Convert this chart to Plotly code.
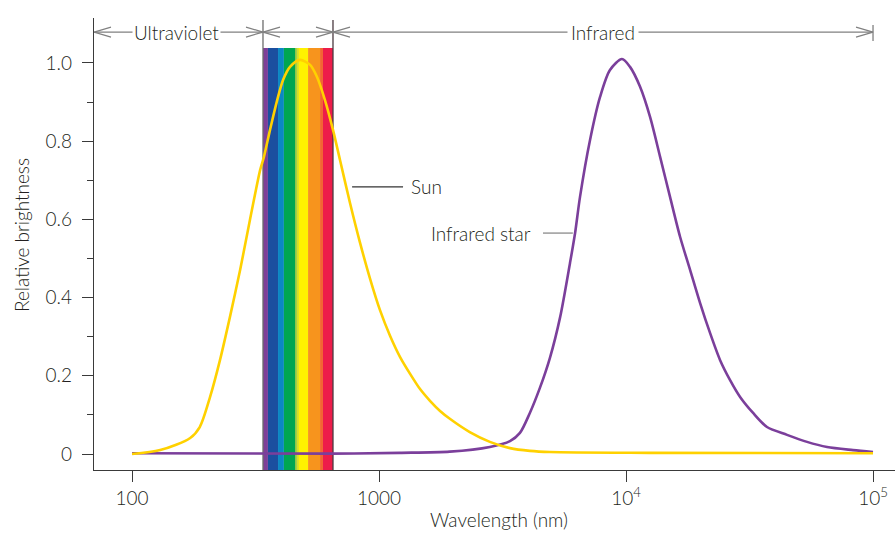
import math
import plotly.graph_objects as go

# ---------------- data ----------------
sun_wavelength = [100, 130, 172, 188, 207, 227, 249, 274, 300, 330, 342, 362, 387, 409, 436,
                  479, 526, 561, 604, 651, 695, 763, 838, 920, 1009, 1109, 1217, 1336, 1466,
                  1608, 1766, 1935, 2330, 2810, 3390, 4080, 4920, 12500, 100000]
sun_brightness = [0.0, 0.010, 0.041, 0.069, 0.146, 0.240, 0.350, 0.471, 0.598, 0.726, 0.760,
                  0.829, 0.905, 0.957, 0.990, 1.008, 0.995, 0.964, 0.905, 0.829, 0.752, 0.642,
                  0.540, 0.448, 0.368, 0.302, 0.248, 0.205, 0.166, 0.136, 0.110, 0.090, 0.056,
                  0.031, 0.015, 0.008, 0.005, 0.003, 0.002]

star_wavelength = [100, 634, 1210, 1935, 2810, 3390, 3720, 4080, 4480, 4920, 5410, 5930, 6220,
                   6510, 7150, 7850, 8610, 9630, 10380, 11400, 12510, 13740, 15080, 16560,
                   18170, 19950, 21900, 24040, 26380, 28960, 32690, 37220, 44860, 54070,
                   65160, 82990, 100000]
star_brightness = [0.002, 0.001, 0.003, 0.006, 0.018, 0.033, 0.054, 0.105, 0.169, 0.246, 0.350,
                   0.488, 0.565, 0.657, 0.803, 0.913, 0.982, 1.010, 0.990, 0.939, 0.862, 0.760,
                   0.657, 0.555, 0.471, 0.386, 0.309, 0.240, 0.189, 0.146, 0.105, 0.069, 0.049,
                   0.031, 0.018, 0.010, 0.005]

# visible spectrum stripes (nm edges) and their colours
band_edges = [339, 355, 390, 412, 457, 465, 474, 516, 577, 593, 651]
band_colors = ["#7E3F98", "#1B4F9F", "#0B87C3", "#00A651", "#8DC63F", "#D7DF23",
               "#FFF200", "#F7941D", "#F26531", "#ED1C4A"]

# region boundaries (nm)
uv_start = 10 ** 1.846
vis_start = 339
vis_end = 651
ir_end = 100000

x_tick_vals = [100, 1000, 10000, 100000]
x_tick_text = ["100", "1000", "10<sup>4</sup>", "10<sup>5</sup>"]
y_tick_vals = [0, 0.2, 0.4, 0.6, 0.8, 1.0]
y_tick_text = ["0", "0.2", "0.4", "0.6", "0.8", "1.0"]

# ---------------- styling ----------------
FONT = "Lato"
FS = 19
FW = 300
TXT = "#231f20"
GRAY = "#808080"
SUN_C = "#FFD100"
STAR_C = "#7B3F9B"
Y_MIN, Y_MAX = -0.0409, 1.115
BAND_TOP = 1.038
ARROW_Y = 1.079

fig = go.Figure()

# spectrum band
for i, col in enumerate(band_colors):
    a, b = band_edges[i], band_edges[i + 1]
    fig.add_trace(go.Scatter(x=[a, b, b, a, a], y=[Y_MIN, Y_MIN, BAND_TOP, BAND_TOP, Y_MIN],
                             fill="toself", fillcolor=col, mode="none", hoverinfo="skip"))

# band boundary lines
for xv, c in [(vis_start, "#6d6d6d"), (vis_end, "#4a3a40")]:
    fig.add_trace(go.Scatter(x=[xv, xv], y=[Y_MIN, 1.110], mode="lines",
                             line=dict(color=c, width=1.3), hoverinfo="skip", cliponaxis=False))

# arrow lines across the top
DEC = 17 / 247.0   # chevron length in decades
HW = 5 / 391.0     # chevron half width


def chevron(x_tip, direction):
    lt = math.log10(x_tip)
    base = 10 ** (lt - direction * DEC)
    return [base, x_tip, base], [ARROW_Y + HW, ARROW_Y, ARROW_Y - HW]


fig.add_trace(go.Scatter(x=[uv_start, ir_end], y=[ARROW_Y, ARROW_Y], mode="lines",
                         line=dict(color=GRAY, width=1.3), hoverinfo="skip", cliponaxis=False))
for tip, d in [(uv_start, -1), (vis_start, 1), (vis_start, -1), (vis_end, 1),
               (vis_end, -1), (ir_end, 1)]:
    cx, cy = chevron(tip, d)
    fig.add_trace(go.Scatter(x=cx, y=cy, mode="lines", line=dict(color=GRAY, width=1.2),
                             hoverinfo="skip", cliponaxis=False))
fig.add_trace(go.Scatter(x=[ir_end, ir_end], y=[1.056, 1.097], mode="lines",
                         line=dict(color=GRAY, width=1.3), hoverinfo="skip", cliponaxis=False))

# label connector lines
fig.add_trace(go.Scatter(x=[778, 1251], y=[0.683, 0.683], mode="lines",
                         line=dict(color="#333333", width=1.2), hoverinfo="skip"))
fig.add_trace(go.Scatter(x=[4610, 6090], y=[0.565, 0.565], mode="lines",
                         line=dict(color=GRAY, width=1.2), hoverinfo="skip"))

# curves
fig.add_trace(go.Scatter(x=star_wavelength, y=star_brightness, mode="lines",
                         line=dict(color=STAR_C, width=2.6, shape="spline", smoothing=0.8),
                         name="Infrared star"))
fig.add_trace(go.Scatter(x=sun_wavelength, y=sun_brightness, mode="lines",
                         line=dict(color=SUN_C, width=2.6, shape="spline", smoothing=0.8),
                         name="Sun"))

ann_font = dict(family=FONT, size=FS, color=TXT, weight=FW)
annotations = [
    dict(x=math.log10(151), y=ARROW_Y, xref="x", yref="y", text="Ultraviolet", showarrow=False,
         bgcolor="white", borderpad=1, font=ann_font),
    dict(x=math.log10(470), y=1.118, xref="x", yref="y", text="Visible", showarrow=False,
         font=ann_font),
    dict(x=math.log10(8070), y=ARROW_Y, xref="x", yref="y", text="Infrared", showarrow=False,
         bgcolor="white", borderpad=3, font=ann_font),
    dict(x=math.log10(1321), y=0.683, xref="x", yref="y", text="Sun", showarrow=False,
         xanchor="left", font=ann_font),
    dict(x=math.log10(4200), y=0.565, xref="x", yref="y", text="Infrared star",
         showarrow=False, xanchor="right", font=ann_font),
    dict(x=(21 - 94) / 801, y=(470 - 235) / 452, xref="paper", yref="paper",
         xanchor="center", yanchor="middle",
         text="Relative brightness", textangle=-90, showarrow=False, font=ann_font),
    dict(x=(499 - 94) / 801, y=(470 - 519) / 452, xref="paper", yref="paper",
         xanchor="center", yanchor="middle",
         text="Wavelength (nm)", showarrow=False, font=ann_font),
]

fig.update_layout(
    width=895, height=538,
    margin=dict(l=94, r=0, t=18, b=68, autoexpand=False),
    plot_bgcolor="white", paper_bgcolor="white",
    showlegend=False,
    font=dict(family=FONT, size=FS, color=TXT, weight=FW),
    annotations=annotations,
    xaxis=dict(type="log", range=[1.846, 5.089], showgrid=False, zeroline=False,
               automargin=False,
               showline=True, linecolor="#3a3a3a", linewidth=1.3,
               ticks="outside", ticklen=11, tickwidth=1.2, tickcolor="#3a3a3a",
               tickvals=x_tick_vals, ticktext=x_tick_text,
               tickfont=dict(family=FONT, size=FS, color=TXT, weight=FW)),
    yaxis=dict(range=[Y_MIN, Y_MAX], showgrid=False, zeroline=False,
               automargin=False,
               showline=True, linecolor="#3a3a3a", linewidth=1.3,
               ticks="outside", ticklen=11, tickwidth=1.2, tickcolor="#3a3a3a",
               ticklabelstandoff=6,
               tickvals=y_tick_vals, ticktext=y_tick_text,
               tickfont=dict(family=FONT, size=FS, color=TXT, weight=FW),
               minor=dict(tickvals=[0.1, 0.3, 0.5, 0.7, 0.9], ticks="outside", ticklen=6,
                          tickwidth=1.2, tickcolor="#3a3a3a")),
)

fig.write_html("out.html", config={"displayModeBar": False},
               post_script="document.body.style.margin='0';document.body.style.padding='0';")
